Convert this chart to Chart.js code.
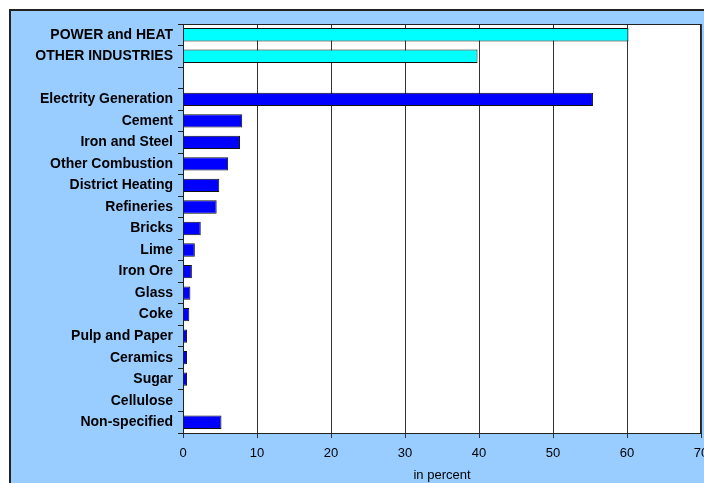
<!DOCTYPE html>
<html>
<head>
<meta charset="utf-8">
<script src="https://cdn.jsdelivr.net/npm/chart.js@4"></script>
<style>
  body { margin: 0; background: #fff; }
  .frame { position: absolute; left: 9px; top: 9px; width: 720px; height: 500px; background: #99CCFF; border: 2px solid #222; }
  #wrap { position: absolute; left: 0; top: 0; width: 704px; height: 483px; }
</style>
</head>
<body>
<div class="frame"></div>
<div id="wrap"><canvas id="chart" width="704" height="483"></canvas></div>
<script>
// sector labels, top to bottom (blank row separates the two groups)
const categories = [
  'POWER and HEAT', 'OTHER INDUSTRIES', '',
  'Electrity Generation', 'Cement', 'Iron and Steel', 'Other Combustion',
  'District Heating', 'Refineries', 'Bricks', 'Lime', 'Iron Ore', 'Glass',
  'Coke', 'Pulp and Paper', 'Ceramics', 'Sugar', 'Cellulose', 'Non-specified'
];
// share in percent
const shares = [
  60.2, 39.8, null,
  55.4, 8.0, 7.7, 6.1,
  4.9, 4.55, 2.4, 1.6, 1.2, 1.0,
  0.85, 0.55, 0.55, 0.55, 0, 5.2
];
const xTicks = [0, 10, 20, 30, 40, 50, 60, 70];

const FONT = 'Arial, "Liberation Sans", sans-serif';

// white plot area + top/right frame lines
const plotFrame = {
  id: 'plotFrame',
  beforeDraw(chart) {
    const { ctx, chartArea: a } = chart;
    ctx.save();
    ctx.fillStyle = '#fff';
    ctx.fillRect(a.left, a.top, a.right - a.left, a.bottom - a.top);
    ctx.restore();
  },
  afterDraw(chart) {
    const { ctx, chartArea: a } = chart;
    ctx.save();
    ctx.strokeStyle = '#222';
    ctx.lineWidth = 1;
    ctx.strokeRect(a.left + 0.5, a.top + 0.5, a.right - a.left - 1, a.bottom - a.top);
    ctx.restore();
  }
};

new Chart(document.getElementById('chart'), {
  type: 'bar',
  data: {
    labels: categories,
    datasets: [{
      data: shares,
      backgroundColor: shares.map((v, i) => i < 2 ? '#00FFFF' : '#0000FF'),
      borderColor: '#111',
      borderWidth: 1,
      barPercentage: 0.62,
      categoryPercentage: 1
    }]
  },
  options: {
    indexAxis: 'y',
    responsive: false,
    animation: false,
    layout: { padding: { top: 24, right: 3, left: 0, bottom: 0 } },
    plugins: { legend: { display: false }, tooltip: { enabled: false } },
    scales: {
      y: {
        afterFit(s) { s.width = 183; s.paddingTop = 0; s.paddingBottom = 0; },
        grid: { drawOnChartArea: false, drawTicks: true, tickLength: 5, color: '#222', offset: true },
        border: { color: '#222', width: 1 },
        ticks: { color: '#000', padding: 5, autoSkip: false, font: { family: FONT, size: 14, weight: 'bold' } }
      },
      x: {
        min: 0,
        max: 70,
        afterBuildTicks(s) { s.ticks = xTicks.map(v => ({ value: v })); },
        afterFit(s) { s.height = 50; s.paddingLeft = 0; s.paddingRight = 0; },
        grid: { color: '#333', lineWidth: 1, drawTicks: true, tickLength: 5 },
        border: { color: '#222', width: 1 },
        ticks: { color: '#000', padding: 8, maxRotation: 0, font: { family: FONT, size: 13 } },
        title: { display: true, text: 'in percent', color: '#000', padding: { top: 0, bottom: 0 }, font: { family: FONT, size: 13 } }
      }
    }
  },
  plugins: [plotFrame]
});
</script>
</body>
</html>
